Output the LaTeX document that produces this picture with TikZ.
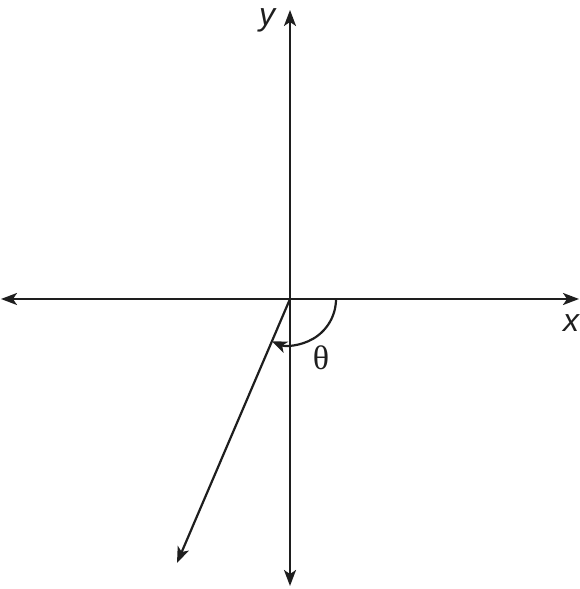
\documentclass[tikz,border=0pt]{standalone}
\usepackage{fontspec}
\setmainfont{Liberation Serif}
\newfontfamily\axisfont{Liberation Sans}
\usetikzlibrary{arrows.meta}
\definecolor{ink}{HTML}{1E1E1E}
\begin{document}
\begin{tikzpicture}[x=1pt,y=1pt,
  axisline/.style={draw=ink,line width=2.2pt,-{Stealth[length=16pt,width=12pt,inset=4pt]}},
  axislbl/.style={text=ink,font=\axisfont\itshape\fontsize{32}{32}\selectfont,inner sep=0pt},
  anglbl/.style={text=ink,font=\fontsize{34}{34}\selectfont,inner sep=0pt}]
\useasboundingbox (0,0) rectangle (580,589);
\coordinate (O) at (290,290);
\coordinate (T) at (290,579);
\coordinate (B) at (290,3);
\coordinate (L) at (1,290);
\coordinate (R) at (579,290);
\coordinate (P) at (177,26);
\draw[axisline] (O) -- (T);
\draw[axisline] (O) -- (B);
\draw[axisline] (O) -- (L);
\draw[axisline] (O) -- (R);
\draw[axisline] (O) -- (P);
\draw[draw=ink,line width=2.2pt,-{Stealth[length=15pt,width=12pt,inset=4pt]}] ([xshift=46pt]O) arc[start angle=0,end angle=-113,radius=46];
\node[axislbl] (ylbl) at (267,569) {y};
\node[axislbl] (xlbl) at (571,266) {x};
\node[anglbl] (th) at (321,231) {θ};
\end{tikzpicture}
\end{document}
